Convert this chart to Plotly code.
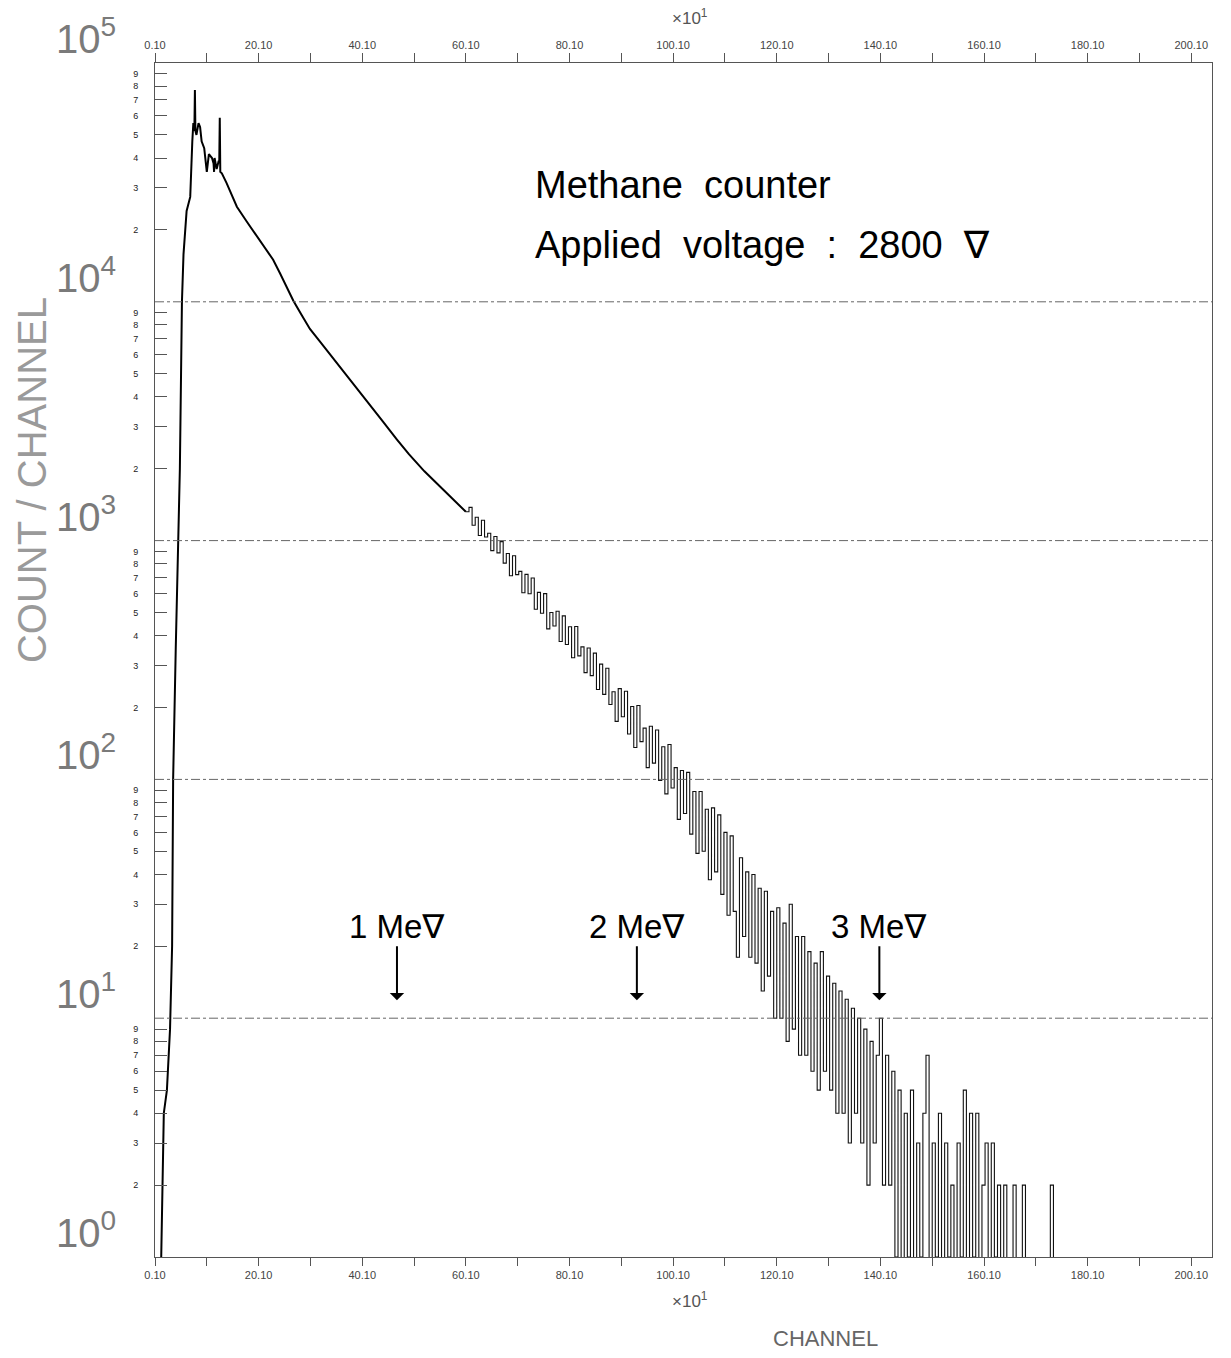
import math
import plotly.graph_objects as go

# ---------------- data ----------------
# smooth part of the spectrum: channel -> count/channel
channels_head = [0, 11, 12, 14, 17, 23, 29, 33, 35, 40, 48, 52, 55, 61, 68, 72, 74, 76, 77, 78,
                 80, 84, 87, 90, 95, 100, 104, 110, 113, 114, 115, 119, 123, 124, 125, 126,
                 129, 138, 148, 158, 177, 190, 203, 215, 228, 241, 254, 267, 283, 299, 320,
                 340, 360, 380, 400, 420, 440, 467, 490, 520, 550, 575, 600]
counts_head = [0, 0, 1, 2, 4, 5, 9, 20, 100, 350, 2000, 10000, 15800, 24000, 27500, 47000,
               56000, 52000, 77000, 52000, 50000, 56000, 54000, 47000, 44000, 35000, 41500,
               40000, 38000, 35000, 40000, 36000, 39000, 38000, 59000, 35000, 34500, 31500,
               28000, 25000, 21700, 19800, 18000, 16400, 15000, 13200, 11500, 10100, 8800,
               7700, 6750, 5950, 5250, 4650, 4100, 3600, 3150, 2650, 2300, 1950, 1680, 1480,
               1320]

# statistically noisy part: one value every 6 channels, from channel 606 to 1740
channels_tail = list(range(606, 1741, 6))
counts_tail = [
    1378, 1160, 1253, 1050, 1216, 1036, 1074, 908, 1040, 888,     # 606-660
    990, 805, 883, 713, 864, 720, 743, 605, 722, 599,             # 666-720
    697, 516, 607, 496, 600, 427, 500, 439, 506, 378,             # 726-780
    484, 367, 436, 323, 437, 329, 359, 280, 355, 272,             # 786-840
    338, 238, 304, 227, 292, 206, 233, 175, 240, 183,             # 846-900
    234, 155, 202, 136, 204, 144, 164, 112, 167, 117,             # 906-960
    161, 99, 137, 87, 140, 92, 112, 68, 109, 72,                  # 966-1020
    107, 59, 89, 49, 89, 50, 75, 38, 76, 41,                      # 1026-1080
    71, 33, 60, 27, 58, 28, 18, 47, 22, 41,                       # 1086-1140
    18, 40, 17, 35, 13, 34, 15, 28, 10, 29,                       # 1146-1200
    10, 25, 8, 30, 9, 22, 7, 22, 7, 19,                           # 1206-1260
    6, 17, 5, 19, 6, 15, 5, 14, 4, 13,                            # 1266-1320
    4, 12, 3, 11, 4, 10, 3, 9, 2, 8,                              # 1326-1380
    3, 7, 10, 2, 7, 2, 6, 1, 5, 0,                                # 1386-1440
    4, 1, 5, 0, 3, 1, 4, 7, 0, 3,                                 # 1446-1500
    1, 4, 0, 3, 1, 2, 0, 3, 1, 5,                                 # 1506-1560
    0, 4, 1, 4, 0, 2, 3, 0, 3, 1,                                 # 1566-1620
    2, 0, 2, 0, 0, 2, 0, 0, 2, 0,                                 # 1626-1680
    0, 0, 0, 0, 0, 0, 0, 2, 0, 0,                                 # 1686-1740
]

decade_values = [1, 10, 100, 1000, 10000, 100000]
decade_exponents = ["0", "1", "2", "3", "4", "5"]
minor_digits = [2, 3, 4, 5, 6, 7, 8, 9]
x_tick_channels = [0, 200, 400, 600, 800, 1000, 1200, 1400, 1600, 1800, 2000]
x_tick_labels = ["0.10", "20.10", "40.10", "60.10", "80.10", "100.10",
                 "120.10", "140.10", "160.10", "180.10", "200.10"]
x_minor_channels = [100, 300, 500, 700, 900, 1100, 1300, 1500, 1700, 1900]
mev_channels = [467, 930, 1398]
mev_labels = ["1 Me\u2207", "2 Me\u2207", "3 Me\u2207"]

# ---------------- figure ----------------
FLOOR = 0.5  # empty channels are drawn down to the bottom of the log axis


def shown(values):
    return [v if v > 0 else FLOOR for v in values]


fig = go.Figure()
fig.add_trace(go.Scatter(
    x=channels_head, y=shown(counts_head), mode="lines",
    line=dict(color="black", width=2), line_shape="linear",
    showlegend=False, hoverinfo="skip"))
fig.add_trace(go.Scatter(
    x=[channels_head[-1]] + channels_tail, y=shown([counts_head[-1]] + counts_tail),
    mode="lines", line=dict(color="#111111", width=1.1), line_shape="hv",
    showlegend=False, hoverinfo="skip"))
# invisible trace to carry the top axis
fig.add_trace(go.Scatter(x=[0, 2040], y=[1, 1], xaxis="x2", mode="lines",
                         line=dict(width=0), opacity=0, showlegend=False,
                         hoverinfo="skip"))

y_minor_vals = [d * m for d in decade_values[:-1] for m in minor_digits]
y_minor_text = [str(m) for d in decade_values[:-1] for m in minor_digits]

axis_gray = "#555555"
fig.update_layout(
    width=1231, height=1358,
    margin=dict(l=155, r=19, t=63, b=101),
    paper_bgcolor="white", plot_bgcolor="white",
    font=dict(family="Liberation Sans, DejaVu Sans, sans-serif", color="black"),
    xaxis=dict(range=[0, 2040], tickvals=x_tick_channels, ticktext=x_tick_labels,
               ticks="outside", ticklen=8, tickcolor=axis_gray, tickwidth=1,
               tickfont=dict(size=11, color="#444444"),
               showline=True, linecolor=axis_gray, linewidth=1,
               showgrid=False, zeroline=False,
               minor=dict(tickvals=x_minor_channels, ticks="outside", ticklen=8,
                          tickcolor=axis_gray, showgrid=False)),
    xaxis2=dict(range=[0, 2040], overlaying="x", side="top",
                tickvals=x_tick_channels, ticktext=x_tick_labels,
                ticks="outside", ticklen=9, tickcolor=axis_gray,
                tickfont=dict(size=11, color="#444444"),
                showline=True, linecolor=axis_gray, linewidth=1,
                showgrid=False, zeroline=False,
                minor=dict(tickvals=x_minor_channels, ticks="outside", ticklen=9,
                           tickcolor=axis_gray, showgrid=False)),
    yaxis=dict(type="log", range=[0, 5], tickvals=y_minor_vals, ticktext=y_minor_text,
               ticks="inside", ticklen=12, tickcolor=axis_gray, tickwidth=1,
               tickfont=dict(size=9, color="#222222"), ticklabelstandoff=14,
               showline=True, linecolor=axis_gray, linewidth=1, mirror=True,
               showgrid=False, zeroline=False),
)

# decade grid lines (dash-dot)
for v in decade_values[1:-1]:
    fig.add_shape(type="line", xref="paper", x0=0, x1=1, yref="y", y0=v, y1=v,
                  line=dict(color="#666666", width=1, dash="dashdot"))

# decade labels 10^n
for v, e in zip(decade_values, decade_exponents):
    fig.add_annotation(xref="paper", x=-0.035, xanchor="right",
                       yref="y", y=math.log10(v), yanchor="bottom",
                       text="10<sup>" + e + "</sup>", showarrow=False,
                       font=dict(size=40, color="#7a7a7a"))

# axis titles and multipliers
fig.add_annotation(xref="paper", x=-0.117, xanchor="center", yref="paper", y=0.651,
                   yanchor="middle", text="COUNT / CHANNEL", textangle=-90,
                   showarrow=False, font=dict(size=40, color="#9a9a9a"))
fig.add_annotation(xref="paper", x=0.634, xanchor="center", yref="paper", y=-0.068,
                   yanchor="middle", text="CHANNEL", showarrow=False,
                   font=dict(size=22, color="#666666"))
for ypos in (1.0385, -0.036):
    fig.add_annotation(xref="paper", x=0.506, xanchor="center", yref="paper", y=ypos,
                       yanchor="middle", text="\u00d710<sup>1</sup>", showarrow=False,
                       font=dict(size=17, color="#555555"))

# in-plot text
fig.add_annotation(xref="paper", x=0.3576, xanchor="left", yref="paper", y=0.898,
                   yanchor="middle", text="Methane\u00a0\u00a0counter", showarrow=False,
                   font=dict(size=38, color="black"))
fig.add_annotation(xref="paper", x=0.3576, xanchor="left", yref="paper", y=0.8476,
                   yanchor="middle",
                   text="Applied\u00a0\u00a0voltage\u00a0\u00a0:\u00a0\u00a02800\u00a0\u00a0\u2207",
                   showarrow=False, font=dict(size=38, color="black"))

# energy markers
for ch, lab in zip(mev_channels, mev_labels):
    fig.add_annotation(x=ch, y=1.075, xref="x", yref="y", text=lab,
                       showarrow=True, ax=0, ay=-74, axref="pixel", ayref="pixel",
                       arrowhead=1, arrowsize=1.2, arrowwidth=2, arrowcolor="black",
                       font=dict(size=33, color="black"))

fig.write_html("out.html")
